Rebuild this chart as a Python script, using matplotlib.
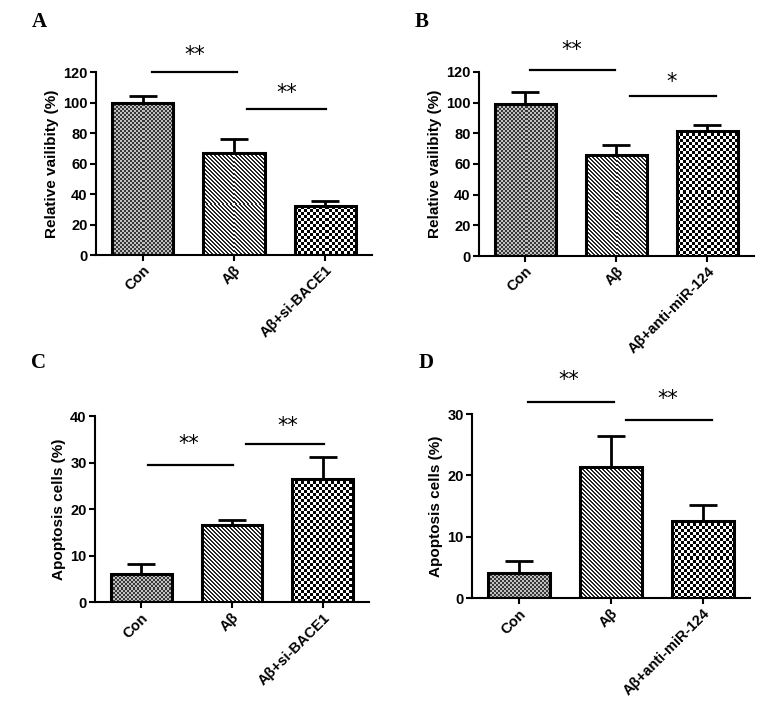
import numpy as np
import matplotlib
matplotlib.use("Agg")
import matplotlib.pyplot as plt

# data
groups_si = ["Con", "Aβ", "Aβ+si-BACE1"]
groups_mir = ["Con", "Aβ", "Aβ+anti-miR-124"]

viab_si = [100, 67, 32]
viab_si_err = [4.3, 8.9, 3.1]
viab_mir = [99, 65.7, 81.7]
viab_mir_err = [8.1, 6.7, 3.5]

apop_si = [6.1, 16.7, 26.5]
apop_si_err = [2.1, 1.1, 4.7]
apop_mir = [4.2, 21.3, 12.6]
apop_mir_err = [1.8, 5.1, 2.6]

# significance brackets: (x0, x1, y, label, label_x, label_y)
sig_a = [(0.10, 1.03, 119.8, "**", 0.57, 131), (1.14, 2.01, 95.7, "**", 1.58, 106)]
sig_b = [(0.05, 0.99, 121.5, "**", 0.51, 134), (1.15, 2.09, 104.5, "*", 1.61, 113.5)]
sig_c = [(0.07, 1.01, 29.5, "**", 0.52, 34.0), (1.15, 2.01, 34.1, "**", 1.61, 38.0)]
sig_d = [(0.10, 1.03, 32.0, "**", 0.54, 35.5), (1.16, 2.10, 29.0, "**", 1.62, 32.4)]

plt.rcParams['font.family'] = ['Liberation Sans', 'DejaVu Sans']

fig = plt.figure(figsize=(7.64, 7.08), dpi=100)


def pattern(ax, bar, kind):
    bb = bar.get_window_extent()
    w, h = max(int(round(bb.width)), 1), max(int(round(bb.height)), 1)
    yy, xx = np.mgrid[0:h, 0:w]
    if kind == "fine":
        arr = np.where(((xx // 2) + (yy // 2)) % 2 == 0, 0.22, 0.75)
    elif kind == "diag":
        arr = np.where(((xx - yy) % 4) < 2, 0.15, 1.0)
    else:
        arr = np.where(((xx // 3) + (yy // 3)) % 2 == 0, 0.0, 1.0)
    x0 = bar.get_x()
    ax.imshow(arr, cmap="gray", vmin=0, vmax=1, aspect="auto",
              interpolation="nearest", extent=[x0, x0 + bar.get_width(), 0, bar.get_height()],
              zorder=2)


def panel(rect, labels, vals, errs, ymax, ystep, ylabel, sigs, letter, letter_xy):
    ax = fig.add_axes(rect)
    x = np.arange(len(vals))
    ax.set_xlim(-0.51, 2.51)
    ax.set_ylim(0, ymax)
    ax.errorbar(x, vals, yerr=[np.zeros(len(errs)), errs], fmt="none", ecolor="black",
                elinewidth=2, capsize=10, capthick=2, zorder=1)
    bars = ax.bar(x, vals, width=0.67, color="white", edgecolor="none", zorder=1.5)
    for b, kind in zip(bars, ["fine", "diag", "checker"]):
        pattern(ax, b, kind)
    ax.bar(x, vals, width=0.67, fill=False, edgecolor="black", linewidth=2.2, zorder=3)
    ax.set_xlim(-0.51, 2.51)
    ax.set_ylim(0, ymax)
    ax.set_yticks(np.arange(0, ymax + 1, ystep))
    ax.set_xticks(x)
    ax.set_xticklabels(labels, rotation=45, ha="right", rotation_mode="anchor",
                       fontsize=10.5, fontweight="bold")
    for t in ax.get_yticklabels():
        t.set_fontsize(10.5)
        t.set_fontweight("bold")
    ax.set_ylabel(ylabel, fontsize=11, fontweight="bold", labelpad=3)
    for s in ["top", "right"]:
        ax.spines[s].set_visible(False)
    for s in ["left", "bottom"]:
        ax.spines[s].set_linewidth(1.5)
    ax.tick_params(width=1.5, length=4, pad=2)
    for x0, x1, y, lab, lx, ly in sigs:
        ax.plot([x0, x1], [y, y], color="black", lw=1.6, clip_on=False)
        ax.text(lx, ly, lab, ha="center", va="center", fontsize=15,
                family="DejaVu Sans", clip_on=False)
    fig.text(letter_xy[0], letter_xy[1], letter, fontsize=15, fontweight="bold",
             family="Liberation Serif", ha="center", va="center")
    return ax


panel([0.1257, 0.6398, 0.361, 0.2585], groups_si, viab_si, viab_si_err, 120, 20,
      "Relative vailibity (%)", sig_a, "A", (39 / 764, 1 - 22 / 708))
panel([0.6266, 0.6384, 0.360, 0.2600], groups_mir, viab_mir, viab_mir_err, 120, 20,
      "Relative vailibity (%)", sig_b, "B", (422 / 764, 1 - 22 / 708))
panel([0.1243, 0.1493, 0.3586, 0.2627], groups_si, apop_si, apop_si_err, 40, 10,
      "Apoptosis cells (%)", sig_c, "C", (39 / 764, 1 - 363 / 708))
panel([0.6178, 0.1549, 0.364, 0.2603], groups_mir, apop_mir, apop_mir_err, 30, 10,
      "Apoptosis cells (%)", sig_d, "D", (426 / 764, 1 - 363 / 708))

fig.savefig("out.png", dpi=100)
